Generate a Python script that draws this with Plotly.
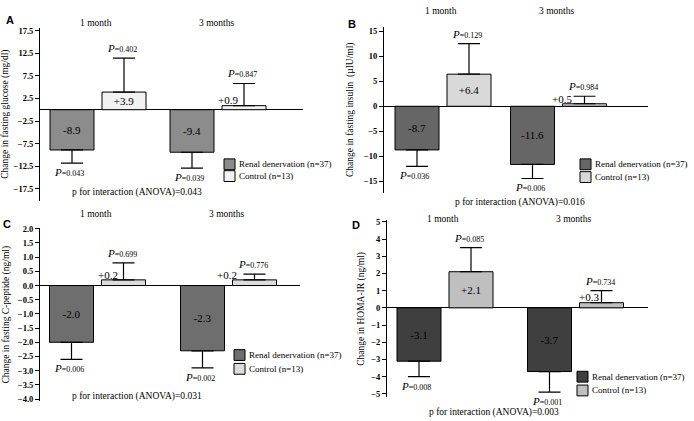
import plotly.graph_objects as go

W, H = 694, 421

periods = ["1 month", "3 months"]
rd_name = "Renal denervation (n=37)"
ctrl_name = "Control (n=13)"

# A - fasting glucose
glucose_rd = [-8.9, -9.4]
glucose_ctrl = [3.9, 0.9]
glucose_rd_err = [2.9, 3.5]
glucose_ctrl_err = [7.5, 4.9]
glucose_rd_p = ["0.043", "0.039"]
glucose_ctrl_p = ["0.402", "0.847"]
glucose_ticks = [17.5, 12.5, 7.5, 2.5, -2.5, -7.5, -12.5, -17.5]
glucose_anova = "0.043"

# B - fasting insulin
insulin_rd = [-8.7, -11.6]
insulin_ctrl = [6.4, 0.5]
insulin_rd_err = [3.3, 2.8]
insulin_ctrl_err = [6.1, 1.5]
insulin_rd_p = ["0.036", "0.006"]
insulin_ctrl_p = ["0.129", "0.984"]
insulin_ticks = [15, 10, 5, 0, -5, -10, -15]
insulin_anova = "0.016"

# C - fasting C-peptide
cpep_rd = [-2.0, -2.3]
cpep_ctrl = [0.2, 0.2]
cpep_rd_err = [0.6, 0.6]
cpep_ctrl_err = [0.6, 0.2]
cpep_rd_p = ["0.006", "0.002"]
cpep_ctrl_p = ["0.699", "0.776"]
cpep_ticks = [2.0, 1.5, 1.0, 0.5, 0.0, -0.5, -1.0, -1.5, -2.0, -2.5, -3.0, -3.5, -4.0]
cpep_anova = "0.031"

# D - HOMA-IR
homa_rd = [-3.1, -3.7]
homa_ctrl = [2.1, 0.3]
homa_rd_err = [0.9, 1.2]
homa_ctrl_err = [1.4, 0.7]
homa_rd_p = ["0.008", "0.001"]
homa_ctrl_p = ["0.085", "0.734"]
homa_ticks = [5, 4, 3, 2, 1, 0, -1, -2, -3, -4, -5]
homa_anova = "0.003"

SERIF = "Liberation Serif"
SANS = "Liberation Sans"

# panel geometry in pixels (left/right/top/bottom of axes, first group centre,
# px per category, y of zero line, px per y unit)
panels = [
    dict(letter="A", letter_xy=(10, 16), title="Change in fasting glucose (mg/dl)",
         rd=glucose_rd, ctrl=glucose_ctrl, rd_err=glucose_rd_err, ctrl_err=glucose_ctrl_err,
         rd_p=glucose_rd_p, ctrl_p=glucose_ctrl_p, ticks=glucose_ticks, tickfmt=".1f",
         anova=glucose_anova, anova_xy=(137, 192), standoff=6,
         left=40, right=303, top=24, bottom=200, c1=98, ppu=120, zero=107.5, pxu=4.6,
         period_y=19, rd_col="#8c8c8c", ctrl_col="#f2f2f2",
         leg_x=224, leg_y=(163, 175), small={1: (10, 6)}),
    dict(letter="B", letter_xy=(352, 20), title="Change in fasting insulin  (µIU/ml)",
         rd=insulin_rd, ctrl=insulin_ctrl, rd_err=insulin_rd_err, ctrl_err=insulin_ctrl_err,
         rd_p=insulin_rd_p, ctrl_p=insulin_ctrl_p, ticks=insulin_ticks, tickfmt="d",
         anova=insulin_anova, anova_xy=(520, 202), standoff=8,
         left=384, right=648, top=23, bottom=192, c1=443, ppu=115.5, zero=104, pxu=5.1,
         period_y=7, rd_col="#666666", ctrl_col="#d9d9d9",
         leg_x=580, leg_y=(163, 176), small={1: (3, 5)}),
    dict(letter="C", letter_xy=(7, 224), title="Change in fasting C-peptide (ng/ml)",
         rd=cpep_rd, ctrl=cpep_ctrl, rd_err=cpep_rd_err, ctrl_err=cpep_ctrl_err,
         rd_p=cpep_rd_p, ctrl_p=cpep_ctrl_p, ticks=cpep_ticks, tickfmt=".1f",
         anova=cpep_anova, anova_xy=(137, 399), standoff=6,
         left=40, right=300, top=228, bottom=404, c1=97.5, ppu=131, zero=286.3, pxu=28.85,
         period_y=214, rd_col="#6e6e6e", ctrl_col="#dcdcdc",
         leg_x=234, leg_y=(357, 371), small={0: (10, 5), 1: (-2, 5)}),
    dict(letter="D", letter_xy=(356, 225), title="Change in HOMA-IR (ng/ml)",
         rd=homa_rd, ctrl=homa_ctrl, rd_err=homa_rd_err, ctrl_err=homa_ctrl_err,
         rd_p=homa_rd_p, ctrl_p=homa_ctrl_p, ticks=homa_ticks, tickfmt="d",
         anova=homa_anova, anova_xy=(494, 415), standoff=4,
         left=387, right=648, top=220, bottom=400, c1=445, ppu=130.5, zero=309, pxu=17.5,
         period_y=219, rd_col="#3f3f3f", ctrl_col="#bfbfbf",
         leg_x=577, leg_y=(379, 393), small={1: (13, 6)}),
]


def px(x):
    return x / W


def py(y):
    return 1 - y / H


def note(x, y, text, size=9.5, family=SERIF, xanchor="center", **kw):
    return dict(x=px(x), y=py(y), xref="paper", yref="paper", text=text,
                showarrow=False, xanchor=xanchor, yanchor="middle",
                font=dict(family=family, size=size, color="black"), **kw)


fig = go.Figure()
annotations = []
shapes = []
layout = {}

for i, p in enumerate(panels):
    n = "" if i == 0 else str(i + 1)
    xa, ya = "x" + n, "y" + n
    ppu = p["ppu"]
    bw = 44 / ppu

    for vals, errs, col, off, name in [
        (p["rd"], p["rd_err"], p["rd_col"], -48 / ppu, rd_name),
        (p["ctrl"], p["ctrl_err"], p["ctrl_col"], 4 / ppu, ctrl_name),
    ]:
        plus = [e if v > 0 else 0 for v, e in zip(vals, errs)]
        minus = [e if v < 0 else 0 for v, e in zip(vals, errs)]
        big = [abs(v) * p["pxu"] > 14 for v in vals]
        fig.add_trace(go.Bar(
            x=periods, y=vals, name=name, xaxis=xa, yaxis=ya,
            width=bw, offset=off,
            marker=dict(color=col, line=dict(color="black", width=1)),
            text=[("%+.1f" % v) if b else "" for v, b in zip(vals, big)],
            textposition="inside", insidetextanchor="middle", textangle=0,
            constraintext="none",
            textfont=dict(family=SERIF, size=11, color="black"),
            error_y=dict(type="data", symmetric=False, array=plus, arrayminus=minus,
                         color="black", thickness=1.2, width=11),
            showlegend=False,
        ))

        # small values written beside the bar
        if name == ctrl_name:
            for k, (dx, dy) in p["small"].items():
                annotations.append(dict(
                    x=periods[k], y=vals[k], xref=xa, yref=ya, text="%+.1f" % vals[k],
                    showarrow=False, xshift=dx, yshift=dy, xanchor="center", yanchor="middle",
                    font=dict(family=SERIF, size=11, color="black")))

    # P values at the end of each error bar
    for vals, errs, pv, off in [(p["rd"], p["rd_err"], p["rd_p"], -29),
                                (p["ctrl"], p["ctrl_err"], p["ctrl_p"], 24)]:
        for k in range(2):
            v, e = vals[k], errs[k]
            up = v > 0
            annotations.append(dict(
                x=periods[k], y=v + e if up else v - e, xref=xa, yref=ya,
                text="<i>P</i><span style='font-size:8px'>=%s</span>" % pv[k],
                showarrow=False, xshift=off, yshift=2 if up else -1,
                xanchor="center", yanchor="bottom" if up else "top",
                font=dict(family=SERIF, size=11, color="black")))

    # period headers
    for k in range(2):
        annotations.append(dict(
            x=periods[k], y=py(p["period_y"]), xref=xa, yref="paper", text=periods[k],
            showarrow=False, xshift=-2, xanchor="center", yanchor="middle",
            font=dict(family=SERIF, size=9.5, color="black")))

    annotations.append(note(*p["letter_xy"], "<b>%s</b>" % p["letter"], size=11, family=SANS))
    annotations.append(note(*p["anova_xy"], "p for interaction (ANOVA)=%s" % p["anova"]))

    # legend boxes
    for yy, col, label in [(p["leg_y"][0], p["rd_col"], rd_name),
                           (p["leg_y"][1], p["ctrl_col"], ctrl_name)]:
        shapes.append(dict(type="rect", xref="paper", yref="paper",
                           x0=px(p["leg_x"]), x1=px(p["leg_x"] + 11),
                           y0=py(yy + 5.5), y1=py(yy - 5.5),
                           fillcolor=col, line=dict(color="black", width=1)))
        annotations.append(note(p["leg_x"] + 13, yy, label, size=9, xanchor="left"))

    yr = [(p["zero"] - p["bottom"]) / p["pxu"], (p["zero"] - p["top"]) / p["pxu"]]
    xr = [(p["left"] - p["c1"]) / ppu, (p["right"] - p["c1"]) / ppu]
    layout["xaxis" + n] = dict(
        domain=[px(p["left"]), px(p["right"])], range=xr, anchor=ya,
        showticklabels=False, showline=False, showgrid=False, zeroline=False, ticks="")
    layout["yaxis" + n] = dict(
        domain=[py(p["bottom"]), py(p["top"])], range=yr, anchor=xa,
        tickvals=p["ticks"], tickformat=p["tickfmt"],
        showline=True, linecolor="black", linewidth=1, ticks="outside", ticklen=4,
        tickcolor="black", showgrid=False, zeroline=True, zerolinecolor="black",
        zerolinewidth=1, tickfont=dict(family=SERIF, size=8.5, color="black", weight="bold"),
        title=dict(text=p["title"], standoff=p["standoff"],
                   font=dict(family=SERIF, size=9.5, color="black")))

fig.update_layout(
    width=W, height=H, margin=dict(l=0, r=0, t=0, b=0),
    paper_bgcolor="white", plot_bgcolor="white", showlegend=False,
    annotations=annotations, shapes=shapes, **layout)

# page body has a default 8px margin; drop it so the figure fills the window
fig.write_html("out.html", config={"displayModeBar": False},
               post_script="document.body.style.margin='0';")
